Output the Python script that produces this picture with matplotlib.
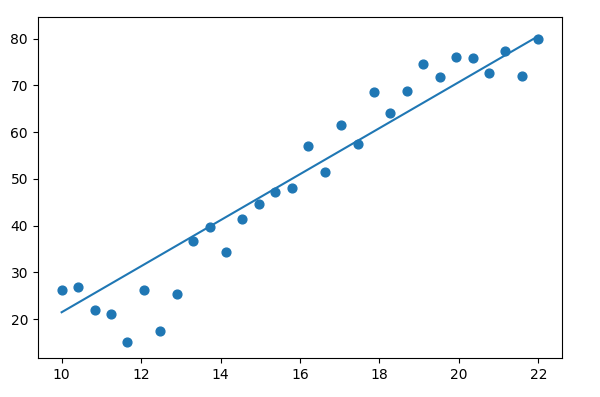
import matplotlib
matplotlib.use("Agg")
import matplotlib.pyplot as plt
import numpy as np

x = np.linspace(10, 22, 30)
y = [26.2, 26.9, 21.9, 21.1, 15.1, 26.2, 17.4, 25.3, 36.7, 39.7,
     34.3, 41.4, 44.6, 47.1, 48.0, 57.0, 51.4, 61.5, 57.4, 68.5,
     64.0, 68.7, 74.5, 71.7, 76.0, 75.8, 72.6, 77.3, 72.1, 80.0]

# fitted line
line_slope = 4.92
line_intercept = -27.7

fig = plt.figure(figsize=(6, 3.97), dpi=100)
ax = fig.add_axes([0.063, 0.098, 0.874, 0.859])
ax.scatter(x, y, s=40)
ax.plot(x, line_slope * x + line_intercept)
ax.set_ylim(11.7, 84.6)

fig.savefig("out.png", dpi=100)
